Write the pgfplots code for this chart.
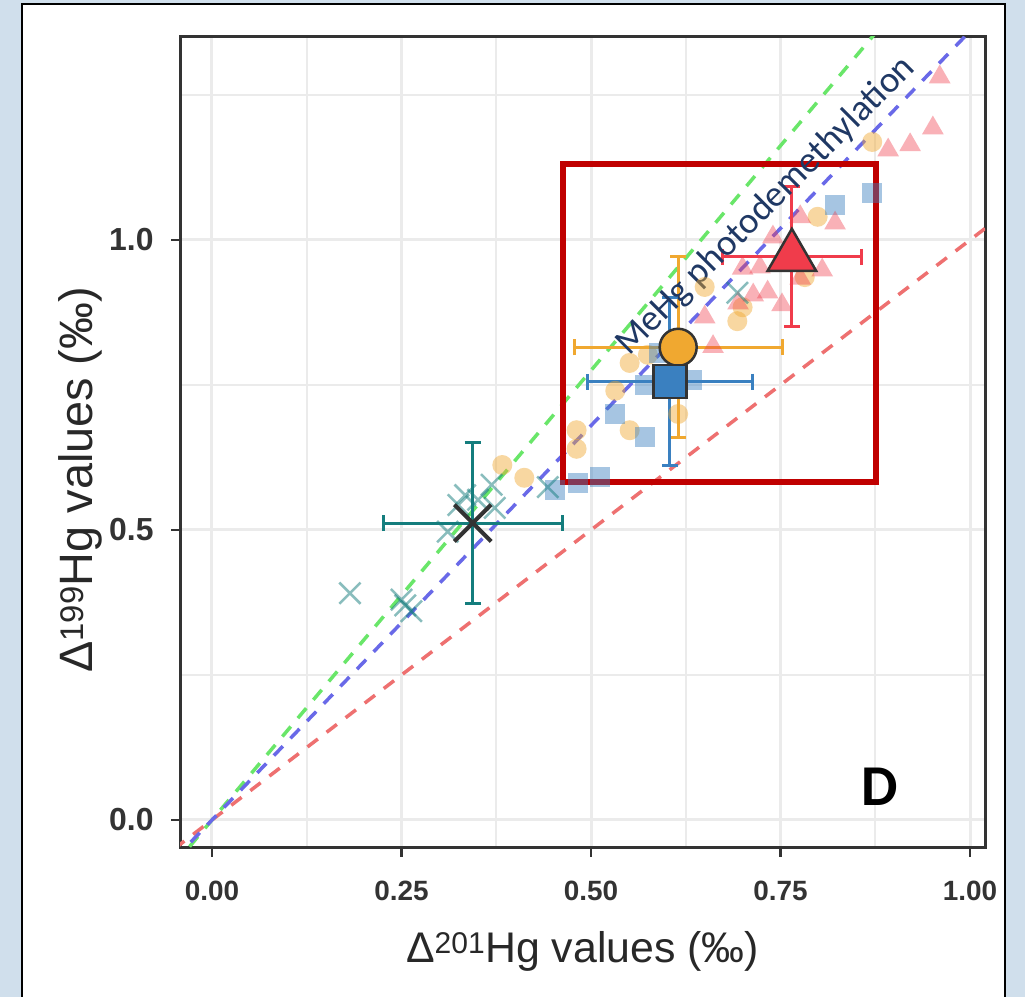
\documentclass[border=0pt]{standalone}
\usepackage{fontspec}
\setmainfont{Liberation Sans}
\newfontfamily\calibri{Carlito}
\usepackage{pgfplots}
\pgfplotsset{compat=1.18}
\definecolor{bgblue}{RGB}{208,223,236}
\definecolor{gridgrey}{RGB}{235,235,235}
\definecolor{axisgrey}{RGB}{51,51,51}
\definecolor{labgrey}{RGB}{40,40,40}
\definecolor{orangec}{RGB}{240,168,48}
\definecolor{bluec}{RGB}{58,128,192}
\definecolor{redc}{RGB}{240,60,75}
\definecolor{tealc}{RGB}{20,125,125}
\definecolor{lgreen}{RGB}{105,230,105}
\definecolor{lblue}{RGB}{105,105,232}
\definecolor{lred}{RGB}{238,112,112}
\definecolor{boxred}{RGB}{192,0,0}
\definecolor{navy}{RGB}{31,56,100}
\begin{document}
\begin{tikzpicture}[x=1bp,y=1bp]
\useasboundingbox (0,0) rectangle (1025,997);
\fill[bgblue] (0,0) rectangle (1025,997);
\filldraw[fill=white, draw=black, line width=2bp] (22,-10) rectangle (1005,993);
\begin{axis}[
  at={(180bp,149bp)}, anchor=south west,
  scale only axis, width=805bp, height=811bp,
  xmin=-0.0422, xmax=1.0198, ymin=-0.0483, ymax=1.35,
  xtick={0,0.25,0.5,0.75,1}, xticklabels={0.00,0.25,0.50,0.75,1.00},
  ytick={0,0.5,1}, yticklabels={0.0,0.5,1.0},
  minor xtick={0.125,0.375,0.625,0.875}, minor ytick={0.25,0.75,1.25},
  grid=both,
  major grid style={line width=3bp, draw=gridgrey},
  minor grid style={line width=2bp, draw=gridgrey},
  minor tick length=0pt, major tick length=9bp, tick align=outside, tick pos=left,
  tick style={line width=2.5bp, draw=axisgrey},
  axis line style={line width=3bp, draw=axisgrey},
  xticklabel style={font=\fontsize{28}{28}\selectfont\bfseries, text=axisgrey, yshift=-21bp},
  yticklabel style={font=\fontsize{32}{32}\selectfont\bfseries, text=axisgrey, xshift=-14bp},
  xlabel={Δ\textsuperscript{201}Hg values (‰)},
  ylabel={Δ\textsuperscript{199}Hg values (‰)},
  xlabel style={font=\fontsize{43}{43}\selectfont, text=labgrey, at={(axis description cs:0.5,-0.1406)}, anchor=base},
  ylabel style={font=\fontsize{47}{47}\selectfont, text=labgrey, at={(axis description cs:-0.1093,0.454)}, anchor=base},
]
% reference lines
\addplot[lred, line width=3.5bp, dash pattern=on 13bp off 11bp, forget plot] coordinates {(-0.05,-0.05) (1.03,1.03)};
\addplot[lgreen, line width=3.5bp, dash pattern=on 13bp off 11bp, forget plot] coordinates {(-0.05,-0.0775) (0.90,1.395)};
\addplot[lblue, line width=3.5bp, dash pattern=on 13bp off 11bp, forget plot] coordinates {(-0.05,-0.068) (1.03,1.4008)};
% individual samples
\addplot[only marks, mark=*, mark size=10bp, mark options={draw=orangec, draw opacity=0, fill=orangec, fill opacity=0.45}] coordinates {
(0.383,0.612) (0.412,0.590) (0.481,0.672) (0.481,0.640) (0.532,0.740) (0.551,0.672)
(0.551,0.788) (0.575,0.802) (0.615,0.700) (0.650,0.919) (0.693,0.860) (0.700,0.884)
(0.782,0.936) (0.799,1.040) (0.871,1.169)};
\addplot[only marks, mark=square*, mark size=10bp, mark options={draw=bluec, draw opacity=0, fill=bluec, fill opacity=0.45}] coordinates {
(0.452,0.569) (0.483,0.581) (0.512,0.591) (0.532,0.700) (0.571,0.660) (0.571,0.750)
(0.590,0.805) (0.633,0.759) (0.822,1.060) (0.871,1.081)};
\addplot[only marks, mark=triangle*, mark size=12.5bp, mark options={draw=redc, draw opacity=0, fill=redc, fill opacity=0.4}] coordinates {
(0.960,1.281) (0.951,1.193) (0.921,1.164) (0.892,1.155) (0.822,1.029) (0.776,1.040)
(0.740,1.005) (0.805,0.948) (0.776,0.934) (0.723,0.953) (0.700,0.951) (0.733,0.910)
(0.714,0.905) (0.752,0.888) (0.694,0.891) (0.650,0.867) (0.661,0.816)};
\addplot[only marks, mark=x, mark size=15bp, mark options={draw=tealc, line width=2.5bp, draw opacity=0.5}] coordinates {
(0.182,0.391) (0.250,0.380) (0.255,0.370) (0.263,0.360) (0.311,0.497) (0.325,0.543)
(0.334,0.560) (0.351,0.552) (0.369,0.578) (0.373,0.538) (0.443,0.574) (0.693,0.909)};
% error bars of the means
\addplot[only marks, mark=none, error bars/.cd, x dir=both, x explicit, y dir=both, y explicit,
  error bar style={line width=3bp, draw=tealc}, error mark options={rotate=90, line width=3bp, draw=tealc, mark size=8bp}]
  coordinates {(0.344,0.512) +- (0.118,0.138)};
\addplot[only marks, mark=none, error bars/.cd, x dir=both, x explicit, y dir=both, y explicit,
  error bar style={line width=3bp, draw=orangec}, error mark options={rotate=90, line width=3bp, draw=orangec, mark size=8bp}]
  coordinates {(0.615,0.815) +- (0.137,0.156)};
\addplot[only marks, mark=none, error bars/.cd, x dir=both, x explicit, y dir=both, y explicit,
  error bar style={line width=3bp, draw=bluec}, error mark options={rotate=90, line width=3bp, draw=bluec, mark size=8bp}]
  coordinates {(0.604,0.756) +- (0.109,0.144)};
\addplot[only marks, mark=none, error bars/.cd, x dir=both, x explicit, y dir=both, y explicit,
  error bar style={line width=3bp, draw=redc}, error mark options={rotate=90, line width=3bp, draw=redc, mark size=8bp}]
  coordinates {(0.765,0.971) +- (0.092,0.121)};
% means
\addplot[only marks, mark=x, mark size=26bp, mark options={draw=axisgrey, line width=4bp}] coordinates {(0.344,0.512)};
\addplot[only marks, mark=*, mark size=18.5bp, mark options={fill=orangec, draw=axisgrey, line width=2.5bp}] coordinates {(0.615,0.815)};
\addplot[only marks, mark=square*, mark size=16.5bp, mark options={fill=bluec, draw=axisgrey, line width=2.5bp}] coordinates {(0.604,0.756)};
\addplot[only marks, mark=triangle*, mark size=28bp, mark options={fill=redc, draw=axisgrey, line width=2.5bp}] coordinates {(0.765,0.971)};
% annotations
\draw[boxred, line width=6bp] (axis cs:0.4637,0.5828) rectangle (axis cs:0.876,1.131);
\node[rotate=45, text=navy, font=\calibri\fontsize{37}{37}\selectfont] at (axis cs:0.731,1.058) {MeHg photodemethylation};
\node[font=\calibri\bfseries\fontsize{58}{58}\selectfont] at (axis cs:0.881,0.057) {D};
\end{axis}
\end{tikzpicture}
\end{document}
